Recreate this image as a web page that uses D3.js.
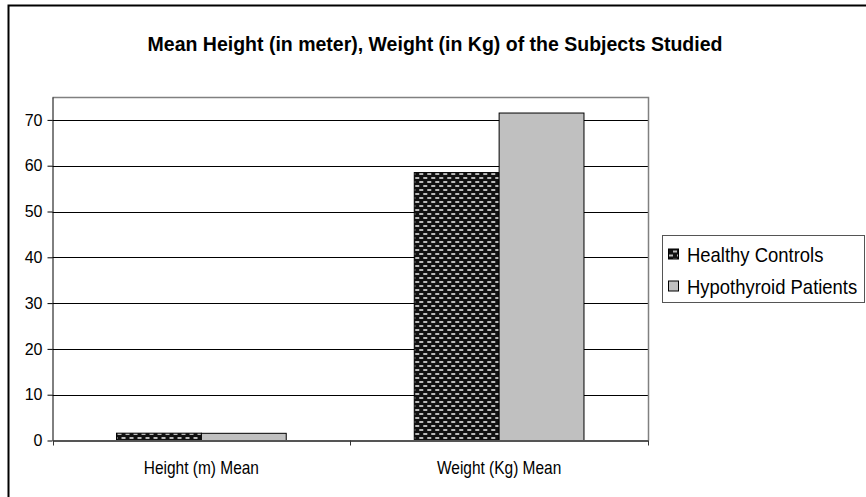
<!DOCTYPE html>
<html>
<head>
<meta charset="utf-8">
<script src="https://cdn.jsdelivr.net/npm/d3@7"></script>
<style>
  body { margin: 0; background: #fff; }
  svg { display: block; font-family: "Liberation Sans", Arial, sans-serif; }
</style>
</head>
<body>
<div id="chart"></div>
<script>
const categories = ["Height (m) Mean", "Weight (Kg) Mean"];
const seriesNames = ["Healthy Controls", "Hypothyroid Patients"];
const healthy = [1.6, 58.5];
const hypothyroid = [1.57, 71.5];
const yTicks = [0, 10, 20, 30, 40, 50, 60, 70];

const W = 866, H = 497;
const plot = { left: 52.5, right: 648, top: 97, bottom: 440.5 };

const svg = d3.select("#chart").append("svg")
  .attr("width", W)
  .attr("height", H);

// checker pattern for healthy controls
const defs = svg.append("defs");
const pat = defs.append("pattern")
  .attr("id", "checks")
  .attr("patternUnits", "userSpaceOnUse")
  .attr("width", 8)
  .attr("height", 8);
pat.append("rect").attr("width", 8).attr("height", 8).attr("fill", "#111");
pat.append("rect").attr("x", 1).attr("y", 1).attr("width", 4).attr("height", 2).attr("fill", "#bbb");
pat.append("rect").attr("x", 5).attr("y", 5).attr("width", 3).attr("height", 2).attr("fill", "#bbb");
pat.append("rect").attr("x", 0).attr("y", 5).attr("width", 1).attr("height", 2).attr("fill", "#bbb");

// outer chart frame
svg.append("rect")
  .attr("x", 8.5).attr("y", 5.5)
  .attr("width", W + 20).attr("height", H + 20)
  .attr("fill", "none")
  .attr("stroke", "#000")
  .attr("stroke-width", 2);

// title, narrow bold face in the source
svg.append("text")
  .attr("transform", "translate(435,51) scale(0.975,1)")
  .attr("text-anchor", "middle")
  .attr("font-weight", "bold")
  .attr("font-size", 20)
  .text("Mean Height (in meter), Weight (in Kg) of the Subjects Studied");

const x0 = d3.scaleBand()
  .domain(categories)
  .range([plot.left, plot.right])
  .paddingInner(0.43)
  .paddingOuter(0.215);

const x1 = d3.scaleBand()
  .domain(seriesNames)
  .range([0, x0.bandwidth()]);

const y = d3.scaleLinear()
  .domain([0, 75])
  .range([plot.bottom, plot.top]);

// gridlines
svg.append("g")
  .selectAll("line")
  .data(yTicks.slice(1))
  .join("line")
  .attr("x1", plot.left).attr("x2", plot.right)
  .attr("y1", d => Math.round(y(d)) + 0.5)
  .attr("y2", d => Math.round(y(d)) + 0.5)
  .attr("stroke", "#000");

// plot area border (top/right)
svg.append("path")
  .attr("d", `M${plot.left},${plot.top + 0.5}H${plot.right + 0.5}V${plot.bottom}`)
  .attr("fill", "none")
  .attr("stroke", "#808080")
  .attr("stroke-width", 1.5);

// bars
const rows = categories.map((c, i) => ({ cat: c, vals: [healthy[i], hypothyroid[i]] }));
const groups = svg.append("g")
  .selectAll("g")
  .data(rows)
  .join("g")
  .attr("transform", d => `translate(${x0(d.cat)},0)`);

groups.selectAll("rect")
  .data(d => d.vals.map((v, j) => ({ series: seriesNames[j], value: v })))
  .join("rect")
  .attr("x", d => x1(d.series))
  .attr("y", d => y(d.value))
  .attr("width", x1.bandwidth())
  .attr("height", d => y(0) - y(d.value))
  .attr("fill", d => d.series === seriesNames[0] ? "url(#checks)" : "#c0c0c0")
  .attr("stroke", "#000")
  .attr("stroke-width", 1);

// y axis
const yAxis = svg.append("g")
  .attr("transform", `translate(${plot.left},0)`)
  .call(d3.axisLeft(y).tickValues(yTicks).tickSize(5).tickPadding(5).tickSizeOuter(0));
yAxis.select(".domain").attr("stroke", "#000");
yAxis.selectAll("text").attr("font-size", 16).attr("fill", "#000")
  .attr("font-family", "Liberation Sans, Arial, sans-serif");

// x axis
const xAxis = svg.append("g")
  .attr("transform", `translate(0,${plot.bottom})`)
  .call(d3.axisBottom(x0).tickSize(0).tickPadding(20).tickSizeOuter(0));
xAxis.select(".domain").attr("stroke", "#555").attr("stroke-width", 2);
xAxis.selectAll("text")
  .attr("font-size", 18)
  .attr("y", 0)
  .attr("dy", null)
  .attr("transform", "translate(0,33) scale(0.86,1)")
  .attr("fill", "#000")
  .attr("font-family", "Liberation Sans, Arial, sans-serif");

// category separator ticks
svg.append("g")
  .selectAll("line")
  .data([plot.left, (plot.left + plot.right) / 2, plot.right])
  .join("line")
  .attr("x1", d => Math.round(d) + 0.5).attr("x2", d => Math.round(d) + 0.5)
  .attr("y1", plot.bottom).attr("y2", plot.bottom + 5)
  .attr("stroke", "#333");

// legend
const legend = svg.append("g").attr("transform", "translate(662,235)");
legend.append("rect")
  .attr("x", 0.5).attr("y", 0.5)
  .attr("width", 202).attr("height", 67)
  .attr("fill", "#fff")
  .attr("stroke", "#555");

const items = legend.selectAll("g.item")
  .data(seriesNames)
  .join("g")
  .attr("class", "item")
  .attr("transform", (d, i) => `translate(6,${26.5 + i * 32})`);

items.append("rect")
  .attr("x", 0.5).attr("y", -12.5)
  .attr("width", 10).attr("height", 10)
  .attr("fill", (d, i) => i === 0 ? "url(#checks)" : "#c0c0c0")
  .attr("stroke", "#000");

items.append("text")
  .attr("transform", "translate(19,0) scale(0.9,1)")
  .attr("font-size", 20.5)
  .text(d => d);
</script>
</body>
</html>
